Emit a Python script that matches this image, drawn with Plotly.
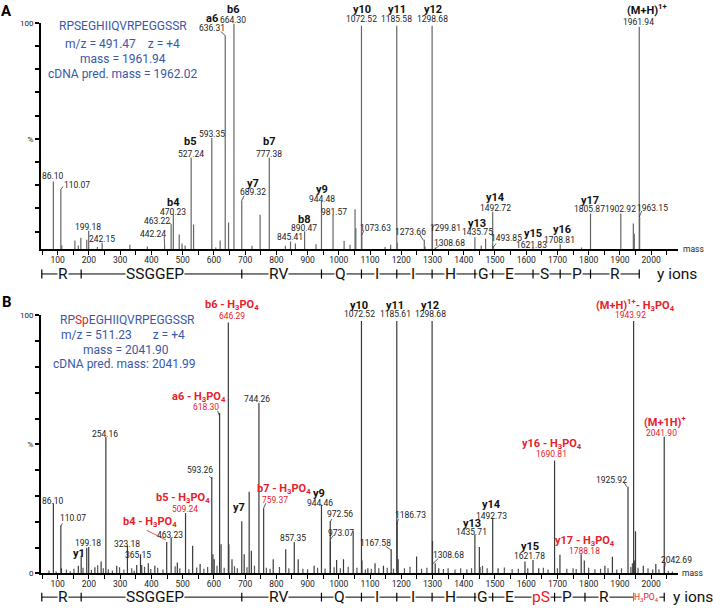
import plotly.graph_objects as go

# ---------------- data ----------------
A_PEAKS = [
    (86.10, 31.6), (110.07, 28.1), (113.0, 4.0), (155.0, 6.2), (166.0, 4.0), (174.0, 7.3),
    (193.0, 6.5), (199.18, 10.4), (227.0, 3.3), (242.15, 5.2), (331.0, 4.3), (387.0, 3.6),
    (442.24, 4.5), (463.22, 13.0), (470.23, 17.5), (489.0, 8.7), (498.0, 4.8), (508.0, 4.0),
    (527.24, 41.8), (535.0, 13.0), (593.35, 50.3), (606.0, 3.1), (620.0, 6.2), (636.31, 94.5),
    (647.0, 13.9), (664.30, 99.6), (689.32, 23.4), (722.0, 3.9), (748.0, 17.2), (777.38, 41.8),
    (829.0, 3.9), (845.41, 5.7), (861.0, 4.8), (890.47, 10.1), (927.0, 4.5), (944.48, 23.1),
    (981.57, 17.2), (1017.0, 5.9), (1036.0, 4.3), (1052.0, 19.6), (1054.5, 11.4), (1072.52, 98.7),
    (1073.63, 8.3), (1148.0, 3.3), (1166.0, 4.3), (1185.58, 98.7), (1187.0, 5.2), (1273.66, 6.5),
    (1276.0, 3.6), (1298.68, 98.7), (1299.81, 12.1), (1308.68, 3.1), (1435.75, 7.6), (1456.0, 4.0),
    (1470.0, 6.9), (1492.72, 18.5), (1493.85, 3.6), (1621.83, 3.2), (1708.81, 4.5), (1777.0, 3.1),
    (1805.87, 17.8), (1902.92, 17.8), (1943.0, 13.5), (1946.0, 9.1), (1961.94, 98.3), (1963.15, 16.3),
]

B_PEAKS = [
    (86.10, 27.2), (110.07, 18.6), (112.0, 2.0), (166.0, 3.0), (175.12, 6.9), (193.0, 10.0),
    (199.18, 10.3), (219.0, 2.4), (239.0, 4.6), (254.16, 52.9), (289.0, 3.0), (323.18, 10.7),
    (353.0, 3.3), (365.15, 7.5), (369.0, 3.3), (390.0, 4.0), (411.0, 3.0), (449.0, 12.2),
    (463.23, 13.9), (483.0, 4.3), (509.24, 23.4), (532.0, 10.7), (556.0, 3.7), (593.26, 37.4),
    (597.0, 7.5), (601.0, 5.5), (618.30, 62.2), (623.0, 11.3), (646.29, 97.2), (648.0, 11.3),
    (658.0, 5.5), (689.32, 20.2), (697.0, 7.5), (713.0, 31.7), (720.0, 8.8), (744.26, 66.0),
    (759.37, 25.3), (790.0, 5.5), (830.0, 9.4), (857.35, 12.2), (870.0, 5.5), (921.0, 3.0),
    (944.46, 26.6), (972.56, 20.2), (973.07, 12.5), (993.0, 5.2), (1015.0, 5.5), (1046.0, 16.4),
    (1072.52, 97.8), (1074.0, 5.0), (1093.0, 2.0), (1116.0, 4.0), (1143.0, 3.0), (1167.58, 9.4),
    (1185.61, 97.8), (1186.73, 20.0), (1190.0, 5.5), (1249.0, 6.6), (1298.68, 97.8), (1300.0, 12.6),
    (1308.68, 4.0), (1320.0, 2.0), (1435.71, 15.1), (1450.0, 10.3), (1452.0, 2.5), (1492.73, 21.5),
    (1510.0, 2.0), (1596.0, 4.6), (1621.78, 5.2), (1640.0, 2.0), (1690.81, 43.8), (1708.0, 7.3),
    (1776.0, 7.5), (1786.0, 5.0), (1852.0, 3.0), (1876.0, 6.5), (1925.92, 33.6), (1943.92, 97.8),
    (1946.0, 5.0), (1950.0, 16.4), (1975.0, 3.0), (2015.0, 3.7), (2041.90, 53.0), (2042.69, 3.0),
]

B_NOISE = [
    (72, 1.2), (95, 0.8), (128, 1.5), (140, 0.9), (152, 1.8), (181, 2.2), (208, 1.4), (228, 3.2),
    (246, 2.0), (262, 1.6), (275, 1.2), (298, 2.4), (312, 1.5), (337, 2.0), (345, 1.1), (378, 2.6),
    (398, 1.7), (420, 2.2), (437, 1.5), (476, 2.8), (491, 2.0), (520, 1.6), (545, 2.3), (568, 1.8),
    (580, 2.5), (610, 3.0), (633, 2.2), (666, 2.8), (675, 2.0), (706, 2.4), (730, 3.0), (768, 2.2),
    (780, 1.8), (810, 2.5), (840, 2.0), (885, 1.8), (900, 1.6), (932, 2.2), (956, 1.9), (985, 2.4),
    (1005, 2.0), (1030, 2.6), (1058, 2.2), (1085, 1.5), (1104, 1.8), (1128, 2.0), (1155, 2.2),
    (1175, 1.8), (1210, 2.0), (1228, 2.6), (1265, 1.8), (1282, 2.2), (1335, 1.7), (1350, 2.0),
    (1372, 1.5), (1390, 2.0), (1410, 1.6), (1425, 2.0), (1460, 3.0), (1475, 2.0), (1530, 2.3),
    (1555, 1.6), (1575, 1.8), (1605, 2.0), (1655, 2.2), (1670, 1.5), (1700, 2.0), (1730, 1.8),
    (1750, 2.0), (1760, 1.7), (1800, 2.2), (1820, 1.6), (1838, 1.8), (1862, 2.0), (1890, 1.5),
    (1905, 2.0), (1935, 2.5), (1940, 4.0), (1958, 2.2), (1990, 2.0), (2005, 1.5), (2025, 1.6),
    (2055, 1.0), (2068, 0.8),
]

X_TICKS = list(range(100, 2001, 100))
X_MINOR = list(range(50, 2051, 100))
A_YTICKS = [10, 20, 30, 40, 50, 60, 70, 80, 90, 100]
A_YTEXT = ["", "", "", "", "%", "", "", "", "", "100"]
B_YTICKS = [0, 10, 20, 30, 40, 50, 60, 70, 80, 90, 100]
B_YTEXT = ["0", "", "", "", "", "%", "", "", "", "", "100"]

A_ROW_BOUNDS = [49, 175.12, 689.32, 944.48, 1072.52, 1185.58, 1298.68, 1435.75, 1492.72,
                1621.83, 1708.81, 1805.87, 1961.94]
A_ROW_LETTERS = ["R", "SSGGEP", "RV", "Q", "I", "I", "H", "G", "E", "S", "P", "R"]
A_ROW_POS = [117, 412, 806, 1005, 1123, 1239, 1356, 1463, 1546, 1660, 1762, 1885]

B_ROW_BOUNDS = [49, 175.12, 689.32, 944.46, 1072.52, 1185.61, 1298.68, 1435.71, 1492.73,
                1621.78, 1690.81, 1788.18, 1943.92, 2041.90]
B_ROW_LETTERS = ["R", "SSGGEP", "RV", "Q", "I", "I", "H", "G", "E", "pS", "P", "R",
                 "H<sub>3</sub>PO<sub>4</sub>"]
B_ROW_POS = [117, 412, 806, 1001, 1121, 1239, 1356, 1460, 1546, 1648, 1730, 1849, 1985]
B_ROW_RED = [False] * 9 + [True, False, False, True]

A_SEQ = ["RPSEGHIIQVRPEGGSSR", "m/z = 491.47\u00a0\u00a0\u00a0\u00a0z = +4",
         "mass = 1961.94", "cDNA pred. mass = 1962.02"]
B_SEQ = ["RP<span style='color:#e8202a'>Sp</span>EGHIIQVRPEGGSSR",
         "m/z = 511.23\u00a0\u00a0\u00a0\u00a0\u00a0\u00a0\u00a0z = +4",
         "mass = 2041.90", "cDNA pred. mass: 2041.99"]

H3 = "H<sub>3</sub>PO<sub>4</sub>"

# label lists: (text, x(mass), y(intensity), kind)
A_LABELS = [
    ("a6", 594, 101.7, "i"), ("636.31", 594, 97.9, "n"),
    ("b6", 662, 105.8, "i"), ("664.30", 662, 101.3, "n"),
    ("593.35", 594, 52.0, "n"),
    ("b5", 526, 48.6, "i"), ("527.24", 526, 43.5, "n"),
    ("b7", 777, 48.6, "i"), ("777.38", 777, 43.5, "n"),
    ("y10", 1073, 105.9, "i"), ("1072.52", 1073, 101.7, "n"),
    ("y11", 1185, 105.9, "i"), ("1185.58", 1185, 101.7, "n"),
    ("y12", 1301, 105.9, "i"), ("1298.68", 1301, 101.7, "n"),
    ("(M+H)<sup>1+</sup>", 1986, 105.5, "i"), ("1961.94", 1961, 100.4, "n"),
    ("86.10", 86, 33.8, "n"), ("110.07", 114, 29.9, "nl"),
    ("199.18", 198, 12.1, "n"), ("242.15", 241, 6.9, "n"),
    ("442.24", 406, 9.0, "n"), ("463.22", 417, 14.4, "n"),
    ("b4", 470, 22.4, "i"), ("470.23", 470, 18.6, "n"),
    ("y7", 726, 30.9, "i"), ("689.32", 726, 27.1, "n"),
    ("y9", 945, 28.1, "i"), ("944.48", 945, 24.1, "n"),
    ("981.57", 986, 18.5, "n"),
    ("b8", 890, 15.4, "i"), ("890.47", 890, 11.5, "n"),
    ("845.41", 843, 7.6, "n"),
    ("1073.63", 1118, 11.5, "n"), ("1273.66", 1231, 9.7, "n"),
    ("1299.81", 1340, 11.5, "n"), ("1308.68", 1355, 5.0, "n"),
    ("y13", 1443, 13.5, "i"), ("1435.75", 1443, 9.7, "n"),
    ("y14", 1501, 24.8, "i"), ("1492.72", 1501, 20.0, "n"),
    ("1493.85", 1538, 7.3, "n"),
    ("y15", 1621, 9.3, "i"), ("1621.83", 1618, 4.3, "n"),
    ("y16", 1716, 10.7, "i"), ("1708.81", 1708, 6.5, "n"),
    ("y17", 1804, 23.6, "i"), ("1805.87", 1804, 19.6, "n"),
    ("1902.92", 1903, 19.6, "n"), ("1963.15", 2005, 20.0, "n"),
]

B_LABELS = [
    ("b6 - " + H3, 659, 103.9, "ri"), ("646.29", 659, 99.7, "rn"),
    ("a6 - " + H3, 553, 68.2, "ri"), ("618.30", 575, 64.4, "rn"),
    ("744.26", 737, 67.7, "n"), ("254.16", 251, 54.2, "n"),
    ("y10", 1066, 103.9, "i"), ("1072.52", 1066, 100.4, "n"),
    ("y11", 1180, 103.9, "i"), ("1185.61", 1180, 100.4, "n"),
    ("y12", 1292, 103.9, "i"), ("1298.68", 1292, 100.4, "n"),
    ("(M+H)<sup>1+</sup>- " + H3, 1949, 103.9, "ri"), ("1943.92", 1933, 100.0, "rn"),
    ("(M+1H)<sup>+</sup>", 2045, 59.0, "ri"), ("2041.90", 2034, 54.6, "rn"),
    ("y16 - " + H3, 1682, 50.1, "ri"), ("1690.81", 1682, 46.1, "rn"),
    ("1925.92", 1874, 36.1, "n"),
    ("y14", 1490, 26.8, "i"), ("1492.73", 1490, 22.1, "n"),
    ("y13", 1426, 19.4, "i"), ("1435.71", 1426, 16.1, "n"),
    ("1186.73", 1228, 22.5, "n"), ("1167.58", 1116, 11.9, "n"),
    ("1308.68", 1351, 7.3, "n"),
    ("y15", 1612, 10.4, "i"), ("1621.78", 1612, 6.6, "n"),
    ("y17 - " + H3, 1788, 12.6, "ri"), ("1788.18", 1788, 8.8, "rn"),
    ("2042.69", 2082, 5.2, "n"),
    ("593.26", 556, 40.0, "n"), ("86.10", 86, 28.1, "n"), ("110.07", 148, 21.5, "n"),
    ("199.18", 198, 11.7, "n"), ("y1", 168, 7.9, "i"),
    ("323.18", 321, 11.3, "n"), ("365.15", 358, 7.3, "n"),
    ("b4 - " + H3, 396, 19.8, "ri"), ("463.23", 460, 14.9, "n"),
    ("b5 - " + H3, 502, 29.1, "ri"), ("509.24", 508, 24.9, "rn"),
    ("y7", 681, 25.6, "i"),
    ("b7 - " + H3, 826, 32.6, "ri"), ("759.37", 796, 28.5, "rn"),
    ("y9", 938, 30.8, "i"), ("944.46", 940, 27.2, "n"),
    ("972.56", 1004, 23.2, "n"), ("973.07", 1006, 15.8, "n"),
    ("857.35", 854, 13.6, "n"),
]

A_LEADERS = [
    (622, 96.2, 636.31, 94.5), (110.07, 28.1, 117, 29.4), (442.24, 4.5, 441, 7.7),
    (463.22, 13.0, 457, 14.0), (689.32, 23.4, 697, 25.5), (1073.63, 8.3, 1080, 10.5),
    (1271, 6.2, 1258, 9.0), (1298.68, 11.5, 1309, 13.2), (1309, 2.6, 1322, 4.0),
    (1492.7, 2.9, 1503, 4.8), (1961.94, 16.3, 1970, 18.9),
]
B_LEADERS = [
    (612, 63.0, 618.3, 61.0), (585, 37.7, 593.26, 36.8), (110.07, 18.3, 115, 19.4),
    (759.37, 25.3, 766, 27.2), (972.56, 20.0, 978, 21.1), (973.07, 13.2, 983, 14.8),
    (1186.73, 19.6, 1191, 21.1), (1150, 10.5, 1166, 9.2), (1300.5, 3.7, 1318, 5.8),
    (1912, 35.5, 1922, 33.6), (2041.9, 2.0, 2046, 4.0),
]
B_RED_LEADERS = [(385, 16.7, 447, 13.0)]

# ---------------- styling ----------------
NUM = "Roboto, sans-serif"
TXT = "Roboto, Open Sans, sans-serif"
NUM_SIZE = 8.5
RED = "#e8202a"
BLUE = "#3a58a8"
XRANGE = [46.5, 2086]
XDOM = [41 / 713, 678 / 713]
A_YRANGE = [2.34, 100]
B_YRANGE = [0, 100]


def stems(peaks):
    xs, ys = [], []
    for m, h in peaks:
        xs += [m, m, None]
        ys += [0, h, None]
    return xs, ys


def segs(lst):
    xs, ys = [], []
    for x0, y0, x1, y1 in lst:
        xs += [x0, x1, None]
        ys += [y0, y1, None]
    return xs, ys


fig = go.Figure()

for peaks, xa, ya, col in [(A_PEAKS, "x", "y", "#666666"), (B_NOISE, "x2", "y2", "#555555"),
                           (B_PEAKS, "x2", "y2", "#3a3a3a")]:
    xs, ys = stems(peaks)
    fig.add_trace(go.Scatter(x=xs, y=ys, mode="lines", xaxis=xa, yaxis=ya,
                             line=dict(color=col, width=1.2), hoverinfo="skip"))

for lst, xa, ya, col in [(A_LEADERS, "x", "y", "#333333"), (B_LEADERS, "x2", "y2", "#333333"),
                         (B_RED_LEADERS, "x2", "y2", RED)]:
    xs, ys = segs(lst)
    fig.add_trace(go.Scatter(x=xs, y=ys, mode="lines", xaxis=xa, yaxis=ya,
                             line=dict(color=col, width=0.8), hoverinfo="skip"))

# row lines (y ions)
for bounds, xa, ya, tk in [(A_ROW_BOUNDS, "x3", "y3", 0.45), (B_ROW_BOUNDS, "x4", "y4", 0.55)]:
    fig.add_trace(go.Scatter(x=[bounds[0], bounds[-1]], y=[0, 0], mode="lines", xaxis=xa, yaxis=ya,
                             line=dict(color="black", width=1), hoverinfo="skip"))
    xs, ys = [], []
    for b in bounds:
        xs += [b, b, None]
        ys += [-tk, tk, None]
    fig.add_trace(go.Scatter(x=xs, y=ys, mode="lines", xaxis=xa, yaxis=ya,
                             line=dict(color="black", width=1.2), hoverinfo="skip"))

anns = []


def place(x, y, xa, ya, yrng):
    """Anchor to the axes; use the axes' domain scale when outside the visible range
    (plotly hides data-referenced annotations outside the range)."""
    d = {}
    if XRANGE[0] <= x <= XRANGE[1]:
        d.update(x=x, xref=xa)
    else:
        d.update(x=(x - XRANGE[0]) / (XRANGE[1] - XRANGE[0]), xref=xa + " domain")
    if yrng[0] <= y <= yrng[1]:
        d.update(y=y, yref=ya)
    else:
        d.update(y=(y - yrng[0]) / (yrng[1] - yrng[0]), yref=ya + " domain")
    return d


def lab(text, x, y, kind, xa, ya, yrng):
    if kind in ("n", "nl"):
        font = dict(family=NUM, size=NUM_SIZE, color="#222222")
    elif kind == "rn":
        font = dict(family=NUM, size=NUM_SIZE, color=RED)
    elif kind == "i":
        font = dict(family=TXT, size=11, color="#111111")
        text = "<b>" + text + "</b>"
    else:
        font = dict(family=TXT, size=11, color=RED)
        text = "<b>" + text + "</b>"
    a = dict(text=text, showarrow=False, font=font,
             xanchor="left" if kind == "nl" else "center", yanchor="middle")
    a.update(place(x, y, xa, ya, yrng))
    anns.append(a)


for t, x, y, k in A_LABELS:
    lab(t, x, y, k, "x", "y", A_YRANGE)
for t, x, y, k in B_LABELS:
    lab(t, x, y, k, "x2", "y2", B_YRANGE)

for txt, y in zip(A_SEQ, [98.7, 90.7, 84.3, 77.9]):
    anns.append(dict(text=txt, x=309, y=y, xref="x", yref="y", showarrow=False,
                     font=dict(family=TXT, size=12, color=BLUE), xanchor="center", yanchor="middle"))
for txt, x, y in zip(B_SEQ, [323, 309, 318, 315], [98.1, 92.4, 86.6, 81.3]):
    anns.append(dict(text=txt, x=x, y=y, xref="x2", yref="y2", showarrow=False,
                     font=dict(family=TXT, size=12, color=BLUE), xanchor="center", yanchor="middle"))

for letters, pos, xa, ya, reds in [(A_ROW_LETTERS, A_ROW_POS, "x3", "y3", [False] * 12),
                                   (B_ROW_LETTERS, B_ROW_POS, "x4", "y4", B_ROW_RED)]:
    for l, p, r in zip(letters, pos, reds):
        small = l.startswith("H<sub>")
        anns.append(dict(text=l, x=p, y=0, xref=xa, yref=ya, showarrow=False, bgcolor="white",
                         borderpad=0, yshift=0,
                         font=dict(family=TXT, size=8.5 if small else 15.5,
                                   color=RED if r else "#111111"),
                         xanchor="center", yanchor="middle"))

for xa, ya, xm in [("x3", "y3", 2082), ("x4", "y4", 2135)]:
    a = dict(text="y ions", showarrow=False, font=dict(family=TXT, size=15.5, color="#111111"),
             xanchor="center", yanchor="middle")
    a.update(place(xm, 0, xa, ya, [-1, 1]))
    anns.append(a)
for xa, ya, xm, ym, yr in [("x", "y", 2096, 2.34, A_YRANGE), ("x2", "y2", 2093, 0, B_YRANGE)]:
    a = dict(text="mass", showarrow=False, font=dict(family=NUM, size=NUM_SIZE, color="#222222"),
             xanchor="left", yanchor="middle")
    a.update(place(xm, ym, xa, ya, yr))
    anns.append(a)

anns.append(dict(text="<b>A</b>", x=6.5 / 713, y=1 - 7.5 / 611, xref="paper", yref="paper",
                 showarrow=False, font=dict(family=TXT, size=15, color="black"),
                 xanchor="center", yanchor="middle"))
anns.append(dict(text="<b>B</b>", x=6.5 / 713, y=1 - 302 / 611, xref="paper", yref="paper",
                 showarrow=False, font=dict(family=TXT, size=15, color="black"),
                 xanchor="center", yanchor="middle"))


def xax(anchor):
    return dict(domain=XDOM, range=XRANGE, anchor=anchor, showgrid=False, zeroline=False,
                showline=True, linecolor="black", linewidth=1.5, ticks="outside", ticklen=4,
                tickwidth=1, tickcolor="black", tickvals=X_TICKS, ticktext=[str(v) for v in X_TICKS],
                tickfont=dict(family=NUM, size=NUM_SIZE, color="#222222"), ticklabelstandoff=-2,
                minor=dict(ticks="outside", tickvals=X_MINOR, ticklen=4, tickwidth=1, tickcolor="black"))


def yax(anchor, dom, rng, vals, text):
    return dict(domain=dom, range=rng, anchor=anchor, showgrid=False, zeroline=False, showline=True,
                linecolor="black", linewidth=2, ticks="outside", ticklen=4, tickwidth=2,
                tickcolor="black", tickvals=vals, ticktext=text,
                tickfont=dict(family=NUM, size=8, color="#222222"))


fig.update_layout(
    width=713, height=611, margin=dict(l=0, r=0, t=0, b=0),
    paper_bgcolor="white", plot_bgcolor="white", showlegend=False,
    xaxis=xax("y"),
    yaxis=yax("x", [1 - 249 / 611, 1 - 19 / 611], A_YRANGE, A_YTICKS, A_YTEXT),
    xaxis2=xax("y2"),
    yaxis2=yax("x2", [1 - 578 / 611, 1 - 316 / 611], B_YRANGE, B_YTICKS, B_YTEXT),
    xaxis3=dict(domain=XDOM, range=XRANGE, anchor="y3", visible=False),
    yaxis3=dict(domain=[1 - 284 / 611, 1 - 264 / 611], range=[-1, 1], anchor="x3", visible=False),
    xaxis4=dict(domain=XDOM, range=XRANGE, anchor="y4", visible=False),
    yaxis4=dict(domain=[1 - 610 / 611, 1 - 594 / 611], range=[-1, 1], anchor="x4", visible=False),
    annotations=anns,
)

fig.write_html("out.html", config={"displayModeBar": False},
               post_script="document.body.style.margin='0px';document.body.style.overflow='hidden';")
